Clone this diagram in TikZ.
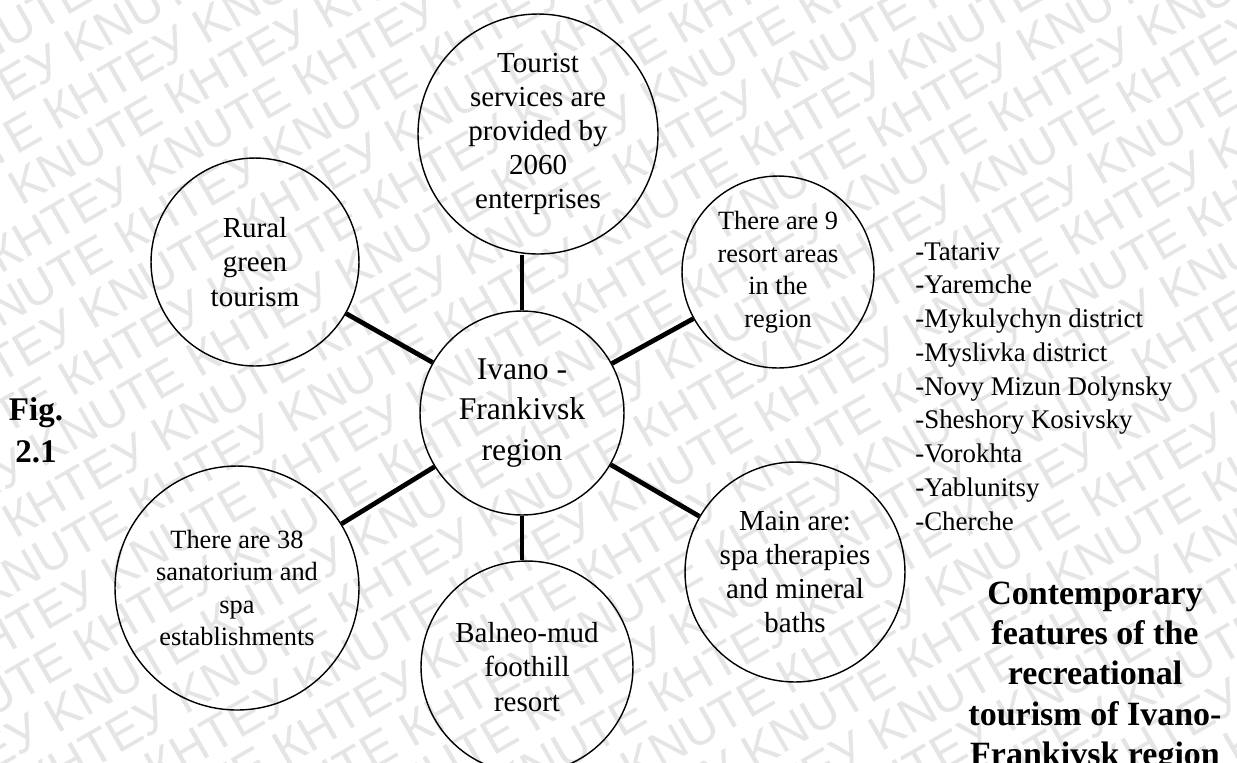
\documentclass[tikz,border=0pt]{standalone}
\usepackage{fontspec}
\setmainfont{Liberation Serif}
\newfontfamily\wmfont{Liberation Sans}
\begin{document}
\begin{tikzpicture}[x=0.02cm, y=-0.02cm,
  bub/.style={circle, draw, line width=0.8pt, inner sep=0pt, align=center},
  txs/.style={font=\fontsize{15}{18.5}\selectfont},
  txm/.style={font=\fontsize{16.5}{19.4}\selectfont},
  txc/.style={font=\fontsize{18}{23.3}\selectfont},
  link/.style={line width=2.7pt},
  wm/.style={font=\wmfont\fontsize{28}{28}\selectfont, text=black!10, inner sep=0pt, anchor=base west},
]
\useasboundingbox (0,0) rectangle (1237,762);

% background watermark: diagonal rows of the university name
\begin{scope}
  \clip (0,0) rectangle (1237,762);
  \begin{scope}[x=1cm, y=1cm, rotate=30, transform shape]
    \foreach \k in {-28,...,1} {
      \pgfmathsetmacro\xs{-11 - 2.4*mod(\k+30,3)}
      \node[wm] (wm\k) at (\xs, \k*0.95)
        {KNUTE КНТЕУ KNUTE КНТЕУ KNUTE КНТЕУ KNUTE КНТЕУ KNUTE КНТЕУ KNUTE КНТЕУ KNUTE КНТЕУ};
    }
  \end{scope}
\end{scope}

% central circle and the six satellites
\node[bub, txc, minimum size=4.08cm] (C) at (522,413) {Ivano -\\Frankivsk\\region};
\node[bub, txm, minimum size=4.8cm]  (T) at (538,134) {Tourist\\services are\\provided by\\2060\\enterprises};
\node[bub, txm, minimum size=4.16cm] (R) at (255,262) {Rural\\green\\tourism};
\node[bub, txs, minimum size=3.84cm] (S) at (778,272) {There are 9\\resort areas\\in the\\region};
\node[bub, txm, minimum size=4.4cm]  (P) at (795,572) {Main are:\\spa therapies\\and mineral\\baths};
\node[bub, txm, minimum size=4.24cm] (B) at (527,667) {Balneo-mud\\foothill\\resort};
\node[bub, txs, minimum size=4.88cm] (N) at (237,588) {There are 38\\sanatorium and\\spa\\establishments};

% spokes
\draw[link] (C.north) -- (C.north |- T.south);
\draw[link] (C.south) -- (C.south |- B.north);
\draw[link] (C) -- (R);
\draw[link] (C) -- (S);
\draw[link] (C) -- (P);
\draw[link] (C) -- (N);

% list of resort areas
\node[anchor=north west, align=left, inner sep=0pt, font=\fontsize{15.3}{19.2}\selectfont] (L) at (915,242)
  {-Tatariv\\-Yaremche\\-Mykulychyn district\\-Myslivka district\\-Novy Mizun Dolynsky\\-Sheshory Kosivsky\\-Vorokhta\\-Yablunitsy\\-Cherche};

% caption
\node[anchor=north, align=center, inner sep=0pt, font=\bfseries\fontsize{19.35}{22.8}\selectfont] (H) at (1095,582)
  {Contemporary\\features of the\\recreational\\tourism of Ivano-\\Frankivsk region};
\node[align=center, inner sep=0pt, font=\bfseries\fontsize{18.8}{23.9}\selectfont] (F) at (36,430) {Fig.\\2.1};
\end{tikzpicture}
\end{document}
